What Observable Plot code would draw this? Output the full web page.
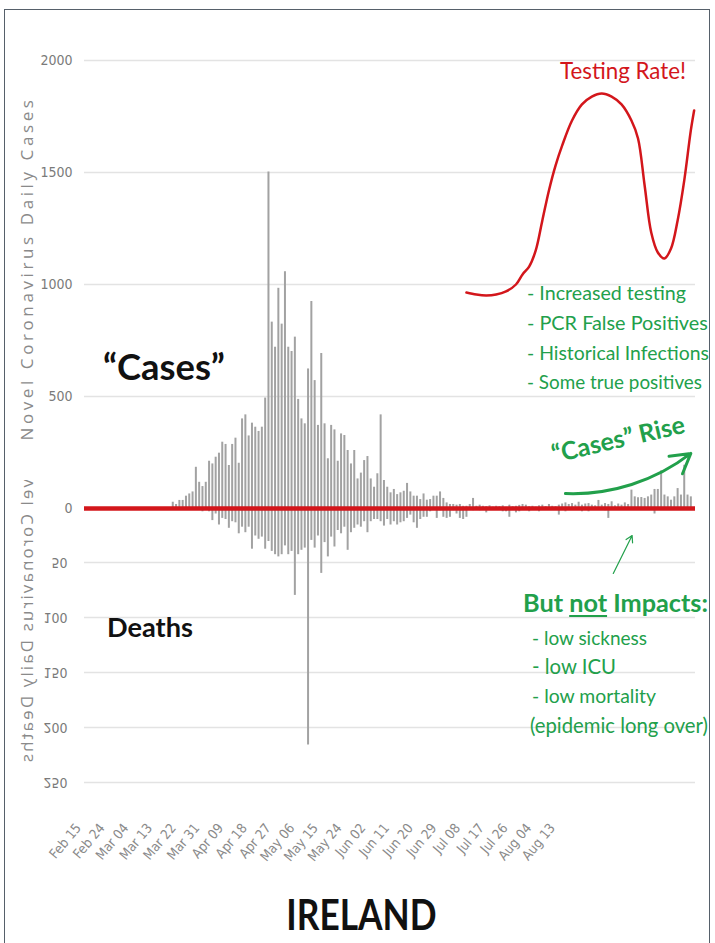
<!DOCTYPE html>
<html><head><meta charset="utf-8">
<script src="https://cdn.jsdelivr.net/npm/d3@7"></script>
<script src="https://cdn.jsdelivr.net/npm/@observablehq/plot@0.6"></script>
<style>
html,body{margin:0;padding:0;background:#fff;}
#wrap{position:relative;width:715px;height:943px;overflow:hidden;background:#fff;font-family:Lato,"Open Sans",sans-serif;}
#wrap svg{position:absolute;left:0;}
#frame{position:absolute;left:4px;top:9px;width:706px;height:960px;border:1.5px solid #56606a;box-sizing:border-box;}
.note{position:absolute;white-space:nowrap;line-height:1;}
</style></head><body>
<div id="wrap"><div id="frame"></div></div>
<script>
// ---- data ----
const casesStart = "2020-03-12";
const cases = [
  28,18,36,36,55,65,74,184,117,98,
  117,211,199,229,247,296,286,192,286,314,
  202,400,418,324,381,363,344,363,493,1502,
  832,720,983,823,1057,720,701,765,487,400,
  378,623,924,571,371,692,378,222,371,351,
  211,333,326,259,199,259,132,158,214,232,
  132,95,155,418,125,95,70,85,62,70,
  77,112,74,55,55,40,65,37,40,55,
  55,74,45,25,18,18,15,18,10,10,
  18,45,10,15,10,8,12,6,10,8,
  12,5,15,8,10,14,18,15,8,10,
  6,12,15,8,18,10,8,15,20,25,
  18,22,15,28,15,20,22,15,12,36,
  15,22,18,30,12,20,15,25,18,82,
  52,48,49,45,52,60,85,85,168,60,
  52,37,52,89,60,193,60,52
];
const deaths = [
  0,0,0,0,0,0,0,0,0,3,
  0,3,11,5,15,9,10,18,12,13,
  23,17,22,17,37,25,28,26,37,30,
  39,42,44,42,34,42,39,79,42,38,
  36,215,29,36,25,59,31,44,26,35,
  20,23,17,38,22,18,15,17,12,22,
  12,10,10,12,16,10,15,12,15,13,
  12,9,6,13,18,10,8,8,3,0,
  9,2,8,9,8,2,5,9,10,8,
  0,2,0,2,0,4,0,0,1,0,
  3,3,8,0,4,3,0,0,3,0,
  0,3,0,0,0,1,0,6,0,3,
  0,0,1,0,3,0,3,0,0,1,
  0,2,9,0,1,0,0,0,0,1,
  0,0,1,0,0,0,5,0,0,1,
  0,0,0,0,0,0,0,0
];
const caseTicks = [0, 500, 1000, 1500, 2000];
const deathTicks = [50, 100, 150, 200, 250];
const dateLabels = ["Feb 15","Feb 24","Mar 04","Mar 13","Mar 22","Mar 31","Apr 09","Apr 18","Apr 27","May 06","May 15","May 24","Jun 02","Jun 11","Jun 20","Jun 29","Jul 08","Jul 17","Jul 26","Aug 04","Aug 13"];
// hand-drawn "Testing Rate!" curve (in cases units)
const testingDates = ["2020-06-09","2020-06-12","2020-06-15","2020-06-18","2020-06-21","2020-06-24","2020-06-26","2020-06-28","2020-06-30","2020-07-02","2020-07-04","2020-07-06","2020-07-08","2020-07-11","2020-07-14","2020-07-17","2020-07-20","2020-07-23","2020-07-26","2020-07-29","2020-07-31","2020-08-02","2020-08-04","2020-08-06","2020-08-08","2020-08-10","2020-08-12","2020-08-14","2020-08-16","2020-08-17"];
const testingValues = [964,955,951,955,969,1000,1045,1080,1152,1286,1420,1531,1620,1732,1804,1839,1853,1839,1804,1732,1652,1442,1232,1143,1116,1161,1286,1464,1688,1777];
// annotation arrows (cases units)
const arrowsData = [
  {x1: "2020-07-09T00:00Z", y1: 67, x2: "2020-08-16T00:00Z", y2: 246, w: 3, bend: -20},
  {x1: "2020-07-23T12:00Z", y1: -290, x2: "2020-07-29T05:00Z", y2: -121, w: 1.2, bend: 0}
];

// ---- build ----
const day0 = new Date(casesStart + "T00:00Z");
const caseRows = cases.map((v, i) => ({date: d3.utcDay.offset(day0, i), value: v}));
const deathRows = deaths.map((v, i) => ({date: d3.utcDay.offset(day0, i), value: v}));
const testing = testingDates.map((d, i) => ({date: new Date(d + "T00:00Z"), value: testingValues[i]}));
const arrows = arrowsData.map(a => ({...a, x1: new Date(a.x1), x2: new Date(a.x2)}));
const xDomain = [new Date("2020-02-14T06:00Z"), new Date("2020-08-17T10:00Z")];
const axisFont = '"Liberation Sans Narrow","DejaVu Sans Condensed",sans-serif';
const titleFont = '"Open Sans",sans-serif';
const wrap = document.getElementById("wrap");
const RED = "#d3161b", GREEN = "#22a04b", BAR = "#a2a2a2", GRID = "#e3e3e3";

function spaceTitles(svg, spacing) {
  svg.querySelectorAll("text").forEach(t => { if (t.textContent.startsWith("Novel")) t.style.letterSpacing = spacing; });
}

// deaths (drawn upside-down, as in the reference)
const deathsPlot = Plot.plot({
  width: 715, height: 320, marginLeft: 84, marginRight: 20, marginTop: 17, marginBottom: 28,
  style: {background: "transparent", fontFamily: axisFont, fontSize: "14px", color: "#777"},
  x: {type: "utc", domain: xDomain, axis: null},
  y: {domain: [0, 250], axis: null},
  marks: [
    Plot.gridY(deathTicks, {stroke: GRID, strokeOpacity: 1, strokeWidth: 1.5}),
    Plot.axisY(deathTicks, {tickSize: 0, tickPadding: 17, label: null, fill: "#7a7a7a", tickFormat: d3.format("d")}),
    Plot.ruleX(deathRows, {x: "date", y1: 0, y2: "value", stroke: BAR, strokeWidth: 2}),
    Plot.text(["Novel Coronavirus Daily Deaths"], {frameAnchor: "left", textAnchor: "middle", rotate: -90, dx: -57, dy: 37,
      fontSize: 17, fill: "#8a8a8a", fontFamily: titleFont})
  ]
});
deathsPlot.style.top = "480px";
deathsPlot.style.transform = "scaleY(-1)";
spaceTitles(deathsPlot, "2.1px");
wrap.appendChild(deathsPlot);

// cases
const bent = arrows.filter(a => a.bend !== 0), straight = arrows.filter(a => a.bend === 0);
const casesPlot = Plot.plot({
  width: 715, height: 800, marginLeft: 84, marginRight: 20, marginTop: 60, marginBottom: 292,
  style: {background: "transparent", fontFamily: axisFont, fontSize: "14px", color: "#777"},
  x: {type: "utc", domain: xDomain, axis: null},
  y: {domain: [0, 2000], axis: null},
  marks: [
    Plot.gridY(caseTicks.filter(d => d > 0), {stroke: GRID, strokeOpacity: 1, strokeWidth: 1.5}),
    Plot.axisY(caseTicks, {tickSize: 0, tickPadding: 12, label: null, fill: "#7a7a7a", tickFormat: d3.format("d")}),
    Plot.ruleX(caseRows, {x: "date", y1: 0, y2: "value", stroke: BAR, strokeWidth: 2}),
    Plot.ruleY([0], {stroke: RED, strokeWidth: 4.5}),
    Plot.line(testing, {x: "date", y: "value", curve: "catmull-rom", stroke: RED, strokeWidth: 2.5}),
    Plot.arrow(bent, {x1: "x1", y1: "y1", x2: "x2", y2: "y2", stroke: GREEN, strokeWidth: 3, bend: bent[0].bend, headLength: 11}),
    Plot.arrow(straight, {x1: "x1", y1: "y1", x2: "x2", y2: "y2", stroke: GREEN, strokeWidth: 1.2, headLength: 9}),
    Plot.text(["Novel Coronavirus Daily Cases"], {frameAnchor: "left", textAnchor: "middle", rotate: -90, dx: -57, dy: -16,
      fontSize: 17, fill: "#8a8a8a", fontFamily: titleFont})
  ]
});
casesPlot.style.top = "0px";
spaceTitles(casesPlot, "3.6px");
wrap.appendChild(casesPlot);

// date labels strip
const labelDates = dateLabels.map(s => d3.utcParse("%b %d %Y")(s + " 2020"));
const axisPlot = Plot.plot({
  width: 715, height: 70, marginTop: 0, marginBottom: 60, marginLeft: 0, marginRight: 0,
  style: {background: "transparent", fontFamily: axisFont, fontSize: "13.5px", color: "#888"},
  x: {type: "utc", domain: [labelDates[0], labelDates[labelDates.length - 1]], range: [78, 552], axis: null},
  marks: [
    Plot.axisX(labelDates, {tickSize: 0, tickPadding: 3, tickRotate: -50, tickFormat: d3.utcFormat("%b %d"), label: null, fill: "#8a8a8a"})
  ]
});
axisPlot.style.top = "812px";
wrap.appendChild(axisPlot);

// annotations: text fitted to the reference's width, vertically centred on cy
function note(html, left, cy, width, css, rotate) {
  const d = document.createElement("div");
  d.className = "note";
  d.innerHTML = html;
  Object.assign(d.style, css || {});
  d.style.fontSize = "20px";
  d.style.left = left + "px";
  wrap.appendChild(d);
  const w = d.getBoundingClientRect().width;
  const fs = 20 * width / w;
  d.style.fontSize = fs.toFixed(2) + "px";
  d.style.top = (cy - 0.58 * fs).toFixed(1) + "px";
  if (rotate) { d.style.transformOrigin = "center"; d.style.transform = `rotate(${rotate}deg)`; }
  return d;
}
note("Testing Rate!", 560, 73, 126, {color: RED});
note("“Cases”", 103, 369, 122, {fontWeight: "700", color: "#111"});
note("Deaths", 107, 629, 86, {fontWeight: "700", color: "#111"});
const list1 = ["- Increased testing", "- PCR False Positives", "- Historical Infections", "- Some true positives"];
const list1W = [159, 181, 182, 175];
list1.forEach((s, i) => note(s, 527, 294 + i * 30, list1W[i], {color: GREEN}));
note("“Cases” Rise", 550, 440, 136, {fontWeight: "700", color: GREEN}, -13);
note('But <span style="text-decoration:underline;text-underline-offset:3px">not</span> Impacts:', 523, 605, 185, {fontWeight: "700", color: GREEN});
const list2 = ["- low sickness", "- low ICU", "- low mortality"];
const list2W = [115, 84, 124];
list2.forEach((s, i) => note(s, 532, 639 + i * 29, list2W[i], {color: GREEN}));
note("(epidemic long over)", 530, 727, 178, {color: GREEN});
const ir = document.createElement("div");
ir.className = "note";
ir.textContent = "IRELAND";
Object.assign(ir.style, {fontSize: "42px", fontWeight: "700", color: "#111", left: "4px", width: "715px", textAlign: "center", top: "893px", transform: "scaleX(0.84)"});
wrap.appendChild(ir);
</script>
</body></html>
